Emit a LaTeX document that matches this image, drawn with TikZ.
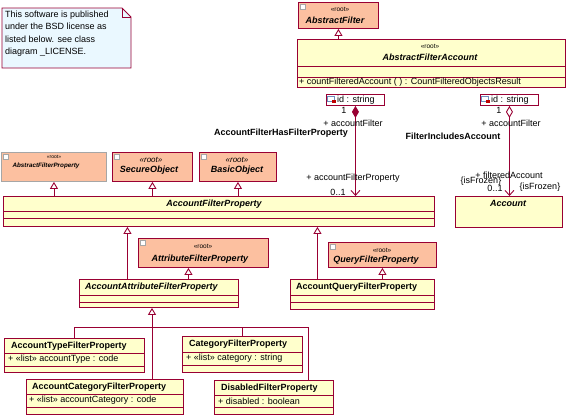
\documentclass[tikz,border=0pt]{standalone}
\usepackage{fontspec}
\setmainfont{Liberation Sans}
\usetikzlibrary{arrows.meta}

\definecolor{umlred}{RGB}{153,0,51}
\definecolor{umlyellow}{RGB}{255,255,204}
\definecolor{umlorange}{RGB}{252,192,160}
\definecolor{notecyan}{RGB}{234,248,255}
\definecolor{umlgray}{RGB}{166,166,166}
\definecolor{iconblue}{RGB}{110,140,190}

\begin{document}
\begin{tikzpicture}[x=1pt,y=1pt,
  every node/.style={inner sep=0pt,font=\fontsize{9}{11}\selectfont},
  cls/.style={draw=umlred,line width=0.9pt,fill=umlyellow,anchor=north west,rectangle},
  rootcls/.style={cls,fill=umlorange},
  sep/.style={draw=umlred,line width=0.9pt},
  stereo/.style={font=\fontsize{6.5}{7}\selectfont},
  ttl/.style={font=\fontsize{9}{11}\selectfont\bfseries\itshape},
  ttlup/.style={font=\fontsize{9}{11}\selectfont\bfseries},
  icon/.style={draw=umlgray,fill=white,line width=0.5pt,minimum size=5pt},
  gen/.style={draw=umlred,line width=0.9pt,-{Triangle[open,length=7pt,width=8pt,fill=white]}},
  branch/.style={draw=umlred,line width=0.9pt},
  comp/.style={draw=umlred,line width=0.9pt,{Diamond[length=12pt,width=7pt]}-{Straight Barb[length=5pt,width=9pt]}},
  aggr/.style={draw=umlred,line width=0.9pt,{Diamond[open,length=12pt,width=7pt,fill=white]}-{Straight Barb[length=5pt,width=9pt]}}]
\useasboundingbox (0,0) rectangle (566,-415);

\draw [umlred,line width=0.9pt,fill=notecyan] (2,-8) -- (122,-8) -- (131,-17) -- (131,-68) -- (2,-68) -- cycle;
\draw [umlred,line width=0.6pt] (122,-8) -- (122,-17) -- (131,-17);
\node [anchor=north west,align=left,font=\fontsize{9}{12.2}\selectfont] (note) at (5,-11)
  {This software is published\\under the BSD license as\\listed below. see class\\diagram \_LICENSE.};

\node [rootcls,minimum width=80,minimum height=26] (af) at (298,-2) {};
\node [icon] (af-icon) at ([xshift=5,yshift=-5]af.north west) {};
\node [stereo] (af-st) at (340,-9) {«root»};
\node [ttl] (af-name) at (335,-20) {AbstractFilter};

\node [cls,minimum width=268,minimum height=48] (afa) at (297,-39) {};
\draw [sep] ([yshift=-27]afa.north west) -- ([yshift=-27]afa.north east);
\draw [sep] ([yshift=-38]afa.north west) -- ([yshift=-38]afa.north east);
\node [stereo] (afa-st) at (430,-46) {«root»};
\node [ttl] (afa-name) at (430,-57) {AbstractFilterAccount};
\node [anchor=west] (afa-op) at (299,-82) {+ countFilteredAccount ( ) : CountFilteredObjectsResult};

\node [cls,fill=white,minimum width=58,minimum height=11] (q1) at (326,-94) {};
\node [anchor=west] (q1-text) at (337,-100) {id : string};
\node [draw=iconblue,fill=white,line width=0.6pt,minimum width=7,minimum height=5] (q1-icon) at (331,-99) {};
\node [fill=red!75!black,minimum size=3.5pt] (q1-dot) at (334,-101.5) {};
\node [cls,fill=white,minimum width=58,minimum height=11] (q2) at (480,-94) {};
\node [anchor=west] (q2-text) at (491,-100) {id : string};
\node [draw=iconblue,fill=white,line width=0.6pt,minimum width=7,minimum height=5] (q2-icon) at (485,-99) {};
\node [fill=red!75!black,minimum size=3.5pt] (q2-dot) at (488,-101.5) {};

\node [cls,minimum width=107,minimum height=31] (account) at (455,-196) {};
\node [ttl] (account-name) at (508,-203) {Account};

\node [rootcls,draw=umlgray,minimum width=105,minimum height=29] (abfp) at (1,-152) {};
\node [icon] (abfp-icon) at ([xshift=5,yshift=-5]abfp.north west) {};
\node [font=\fontsize{5}{6}\selectfont] (abfp-st) at (54,-157) {«root»};
\node [font=\fontsize{6.3}{7}\selectfont\bfseries\itshape] (abfp-name) at (46,-166) {AbstractFilterProperty};

\node [rootcls,minimum width=80,minimum height=29] (so) at (112,-152) {};
\node [icon] (so-icon) at ([xshift=5,yshift=-5]so.north west) {};
\node [font=\fontsize{8}{9}\selectfont\itshape] (so-st) at (151,-160) {«root»};
\node [ttl] (so-name) at (149,-170) {SecureObject};

\node [rootcls,minimum width=77,minimum height=29] (bo) at (199,-152) {};
\node [icon] (bo-icon) at ([xshift=5,yshift=-5]bo.north west) {};
\node [font=\fontsize{8}{9}\selectfont\itshape] (bo-st) at (237,-160) {«root»};
\node [ttl] (bo-name) at (237,-170) {BasicObject};

\node [cls,minimum width=431,minimum height=30] (afp) at (3,-196) {};
\draw [sep] ([yshift=-15]afp.north west) -- ([yshift=-15]afp.north east);
\draw [sep] ([yshift=-22]afp.north west) -- ([yshift=-22]afp.north east);
\node [ttl] (afp-name) at (214,-204) {AccountFilterProperty};

\node [rootcls,minimum width=130,minimum height=29] (atfp) at (138,-238) {};
\node [icon] (atfp-icon) at ([xshift=5,yshift=-5]atfp.north west) {};
\node [stereo] (atfp-st) at (203,-246) {«root»};
\node [ttl] (atfp-name) at (200,-259) {AttributeFilterProperty};

\node [rootcls,minimum width=108,minimum height=25] (qfp) at (328,-242) {};
\node [icon] (qfp-icon) at ([xshift=5,yshift=-5]qfp.north west) {};
\node [stereo] (qfp-st) at (382,-250) {«root»};
\node [ttl] (qfp-name) at (376,-260) {QueryFilterProperty};

\node [cls,minimum width=159,minimum height=28] (aafp) at (79,-279) {};
\draw [sep] ([yshift=-16]aafp.north west) -- ([yshift=-16]aafp.north east);
\draw [sep] ([yshift=-23]aafp.north west) -- ([yshift=-23]aafp.north east);
\node [ttl,anchor=west] (aafp-name) at (85,-287) {AccountAttributeFilterProperty};

\node [cls,minimum width=144,minimum height=30] (aqfp) at (290,-279) {};
\draw [sep] ([yshift=-16]aqfp.north west) -- ([yshift=-16]aqfp.north east);
\draw [sep] ([yshift=-23]aqfp.north west) -- ([yshift=-23]aqfp.north east);
\node [ttlup,anchor=west] (aqfp-name) at (296,-287) {AccountQueryFilterProperty};

\node [cls,minimum width=140,minimum height=34] (atype) at (4,-338) {};
\draw [sep] ([yshift=-15]atype.north west) -- ([yshift=-15]atype.north east);
\draw [sep] ([yshift=-28]atype.north west) -- ([yshift=-28]atype.north east);
\node [ttlup,anchor=west] (atype-name) at (11,-346) {AccountTypeFilterProperty};
\node [anchor=west] (atype-attr) at (8,-359) {+ «list» accountType : code};

\node [cls,minimum width=157,minimum height=35] (acat) at (26,-379) {};
\draw [sep] ([yshift=-15]acat.north west) -- ([yshift=-15]acat.north east);
\draw [sep] ([yshift=-28]acat.north west) -- ([yshift=-28]acat.north east);
\node [ttlup,anchor=west] (acat-name) at (32,-387) {AccountCategoryFilterProperty};
\node [anchor=west] (acat-attr) at (29,-400) {+ «list» accountCategory : code};

\node [cls,minimum width=120,minimum height=36] (cat) at (182,-336) {};
\draw [sep] ([yshift=-16]cat.north west) -- ([yshift=-16]cat.north east);
\draw [sep] ([yshift=-29]cat.north west) -- ([yshift=-29]cat.north east);
\node [ttlup,anchor=west] (cat-name) at (189,-344) {CategoryFilterProperty};
\node [anchor=west] (cat-attr) at (186,-358) {+ «list» category : string};

\node [cls,minimum width=119,minimum height=34] (dis) at (214,-380) {};
\draw [sep] ([yshift=-15]dis.north west) -- ([yshift=-15]dis.north east);
\draw [sep] ([yshift=-27]dis.north west) -- ([yshift=-27]dis.north east);
\node [ttlup,anchor=west] (dis-name) at (221,-388) {DisabledFilterProperty};
\node [anchor=west] (dis-attr) at (218,-401) {+ disabled : boolean};

\draw [gen] (afa.north -| af.south) -- (af.south);
\draw [gen] (afp.north -| abfp.south) -- (abfp.south);
\draw [gen] (afp.north -| so.south) -- (so.south);
\draw [gen] (afp.north -| bo.south) -- (bo.south);
\draw [gen] ([xshift=-31.5]aafp.north) -- ([xshift=-31.5]aafp.north |- afp.south);
\draw [gen] ([xshift=-45]aqfp.north) -- ([xshift=-45]aqfp.north |- afp.south);
\draw [gen] ([xshift=-15]atfp.south |- aafp.north) -- ([xshift=-15]atfp.south);
\draw [gen] (aqfp.north -| qfp.south) -- (qfp.south);

\coordinate (fork) at (152,-327);
\draw [gen] (acat.north -| fork) -- (aafp.south -| fork);
\draw [branch] (atype.north) |- (fork);
\draw [branch] (cat.north) |- (fork);
\draw [branch] ([xshift=34.5]dis.north) |- (fork);

\draw [comp] (q1.south) -- (afp.north -| q1.south);
\node (comp-m1) at (344,-110) {1};
\node (comp-r1) at (353,-123) {+ accountFilter};
\node [ttlup] (comp-name) at (281,-133) {AccountFilterHasFilterProperty};
\node (comp-r2) at (353,-178) {+ accountFilterProperty};
\node (comp-m2) at (338,-192) {0..1};

\draw [aggr] (q2.south) -- (account.north -| q2.south);
\node (aggr-m1) at (499,-110) {1};
\node (aggr-r1) at (511,-123) {+ accountFilter};
\node [ttlup] (aggr-name) at (453,-136) {FilterIncludesAccount};
\node (aggr-r2) at (509,-175) {+ filteredAccount};
\node (aggr-c1) at (481,-181) {\{isFrozen\}};
\node (aggr-m2) at (495,-188) {0..1};
\node (aggr-c2) at (540,-187) {\{isFrozen\}};
\end{tikzpicture}
\end{document}
